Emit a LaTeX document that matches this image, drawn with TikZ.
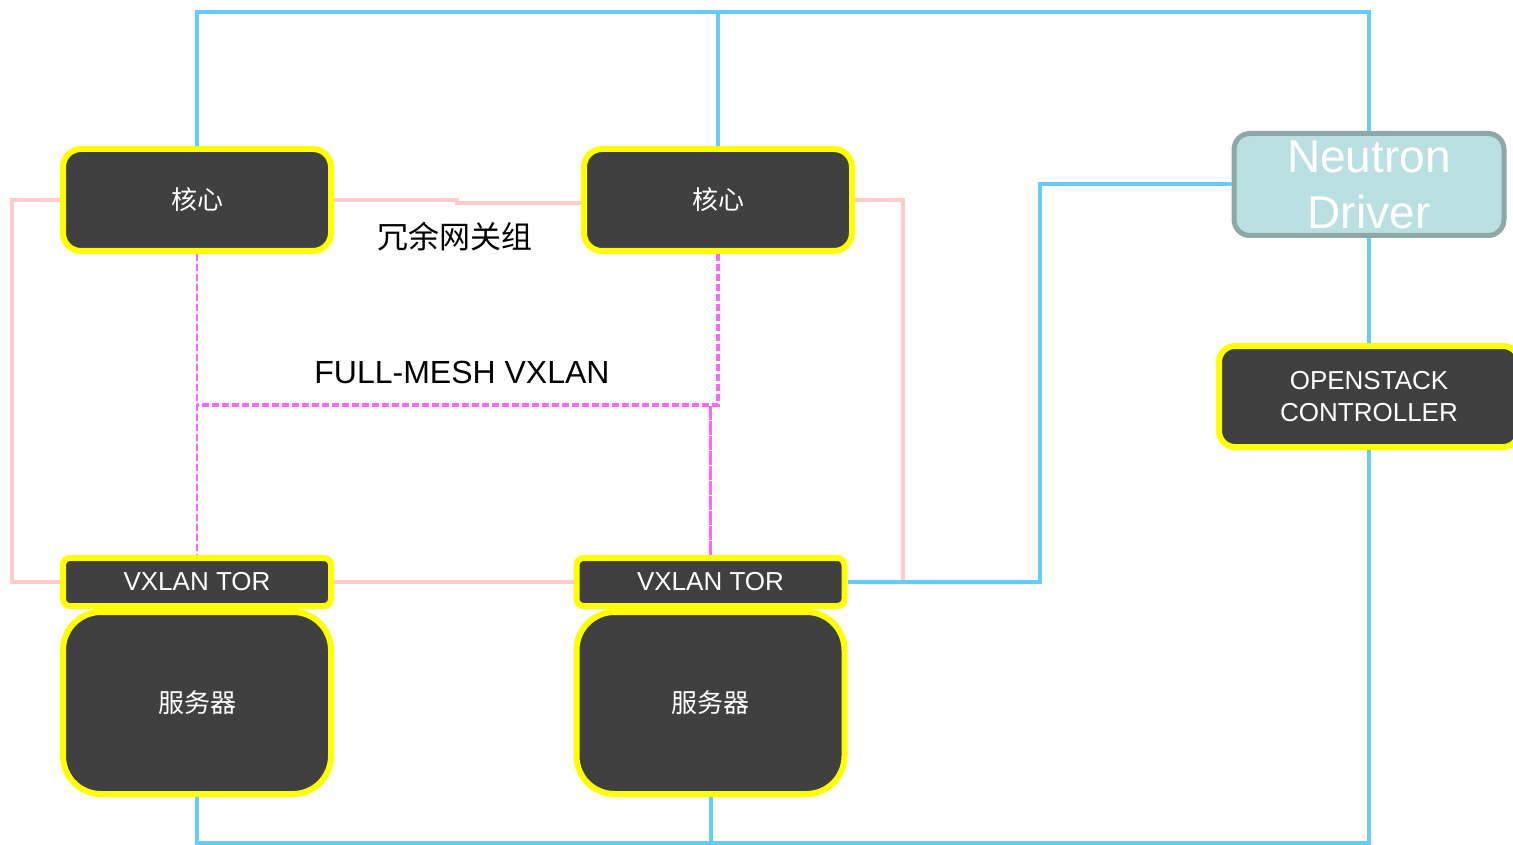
\documentclass[tikz,border=0pt]{standalone}
\usepackage{fontspec}
\setmainfont{Liberation Sans}
\newfontfamily\cjk{Noto Sans CJK SC}
\usetikzlibrary{calc}
\definecolor{ybox}{HTML}{FFFF00}
\definecolor{dk}{HTML}{404040}
\definecolor{bl}{HTML}{66CCFF}
\definecolor{pk}{HTML}{FFCCCC}
\definecolor{mg}{HTML}{FF66FF}
\definecolor{nfill}{HTML}{BBE0E3}
\definecolor{nbord}{HTML}{8EA8AA}
\begin{document}
\begin{tikzpicture}[x=1pt,y=-1pt,
  darkbox/.style={draw=ybox, line width=6pt, fill=dk, text=white, inner sep=0pt, align=center},
  corebox/.style={darkbox, rounded corners=18pt, minimum width=268pt, minimum height=102pt, font=\cjk\fontsize{26}{30}\selectfont},
  torbox/.style={darkbox, rounded corners=7pt, minimum width=268pt, minimum height=48pt, font=\fontsize{26}{30}\selectfont},
  srvbox/.style={darkbox, rounded corners=38pt, minimum width=268pt, minimum height=182pt, font=\cjk\fontsize{26}{30}\selectfont},
  osbox/.style={darkbox, rounded corners=16pt, minimum width=300pt, minimum height=101pt, font=\fontsize{26}{32}\selectfont},
  ndbox/.style={draw=nbord, line width=5pt, fill=nfill, text=white, inner sep=0pt, align=center, rounded corners=16pt, minimum width=270pt, minimum height=102pt, font=\fontsize{46}{56}\selectfont},
  blueline/.style={draw=bl, line width=4pt},
  pinkline/.style={draw=pk, line width=4pt},
  meshline/.style={draw=mg, line width=2.5pt, dash pattern=on 7pt off 3pt},
  lbl/.style={text=black, inner sep=0pt}
]
\useasboundingbox (0,0) rectangle (1513,845);

% nodes
\node[corebox] (c1) at (197,200) {核心};
\node[corebox] (c2) at (718,200) {核心};
\node[torbox] (t1) at (197,582) {VXLAN TOR};
\node[torbox] (t2) at (710.5,582) {VXLAN TOR};
\node[srvbox] (s1) at (197,703) {服务器};
\node[srvbox] (s2) at (710.5,703) {服务器};
\node[ndbox] (nd) at (1369,184.5) {Neutron\\Driver};
\node[osbox] (os) at (1369,396.5) {OPENSTACK\\CONTROLLER};

\node[lbl, font=\cjk\fontsize{31}{34}\selectfont] (lg) at (455,237) {冗余网关组};
\node[lbl, font=\fontsize{32}{36}\selectfont] (lm) at (462,372) {FULL-MESH VXLAN};

% helper coordinates
\coordinate (top) at (0,12);
\coordinate (bot) at (0,843);
\coordinate (bx) at (1040,0);
\coordinate (pl) at (12,0);
\coordinate (pr) at (903,0);
\coordinate (pj) at (457,0);
\coordinate (my) at (0,405);

% pink links
\draw[pinkline] (c1.west) -- (c1.west -| pl) |- (t1.west);
\draw[pinkline] (c1.east) -- (c1.east -| pj) -- ([yshift=-3pt]c1.east -| pj) -- ([yshift=-3pt]c2.west);
\draw[pinkline] (c2.east) -- (c2.east -| pr) |- (t2.east);
\draw[pinkline] (t1.east) -- (t2.west);

% full-mesh vxlan links
\draw[meshline] (c1.south) -- (t1.north);
\draw[meshline, line width=3.5pt] (c2.south) -- (c2.south |- my) -- (c1.south |- my);
\draw[meshline, dash pattern=on 14pt off 1pt] (t2.north) -- (t2.north |- my);

% blue links
\draw[blueline] (c1.north) -- (c1.north |- top) -| (nd.north);
\draw[blueline] (c2.north) -- (c2.north |- top);
\draw[blueline] (nd.west) -- (nd.west -| bx) -- (t2.east -| bx) -- (t2.east);
\draw[blueline] (nd.south) -- (os.north);
\draw[blueline] (os.south) -- (os.south |- bot) -| (s1.south);
\draw[blueline] (s2.south) -- (s2.south |- bot);
\end{tikzpicture}
\end{document}
